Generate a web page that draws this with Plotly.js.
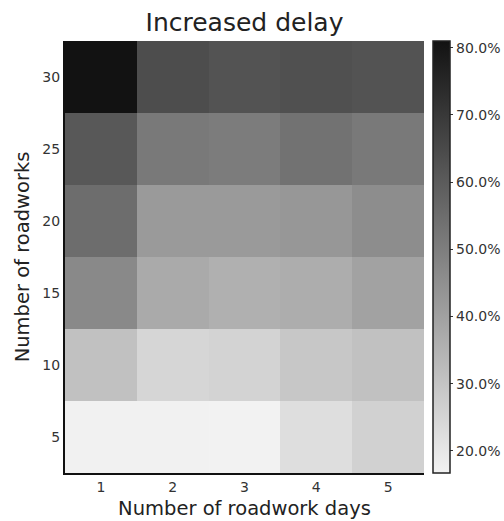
<!DOCTYPE html>
<html>
<head>
<meta charset="utf-8">
<script src="https://cdn.plot.ly/plotly-3.0.1.min.js"></script>
<style>html,body{margin:0;padding:0;background:#fff}#chart{width:504px;height:521px}</style>
</head>
<body>
<div id="chart"></div>
<script>
const days = [1, 2, 3, 4, 5];
const roadworks = [5, 10, 15, 20, 25, 30];
// increased delay (%) per row of roadworks (5..30), columns = days 1..5
const delay5  = [17.0, 17.0, 16.7, 22.3, 26.1];
const delay10 = [30.9, 24.7, 25.6, 29.1, 30.9];
const delay15 = [46.8, 37.3, 35.6, 36.4, 39.7];
const delay20 = [55.0, 42.1, 42.1, 42.9, 45.6];
const delay25 = [60.9, 51.5, 50.6, 53.3, 51.5];
const delay30 = [81.0, 64.2, 62.4, 63.3, 62.4];
const colorTicks = [20, 30, 40, 50, 60, 70, 80];

const z = [delay5, delay10, delay15, delay20, delay25, delay30];
const font = 'DejaVu Sans, sans-serif';

const trace = {
  type: 'heatmap',
  x: days,
  y: roadworks,
  z: z,
  zmin: 16.7,
  zmax: 81.0,
  colorscale: [[0, 'rgb(242,242,242)'], [1, 'rgb(18,18,18)']],
  xgap: 0, ygap: 0,
  colorbar: {
    x: 1.025, xanchor: 'left', xref: 'paper',
    y: 0.5, yanchor: 'middle', len: 1, lenmode: 'fraction',
    thickness: 17, thicknessmode: 'pixels',
    outlinewidth: 1.5, outlinecolor: '#222',
    tickvals: colorTicks,
    ticktext: colorTicks.map(v => v.toFixed(1) + '%'),
    ticks: 'outside', ticklen: 3, tickcolor: '#333',
    tickfont: {family: font, size: 14, color: '#333'},
    xpad: 0, ypad: 0
  }
};

const layout = {
  width: 504, height: 521,
  margin: {l: 65, r: 80, t: 41, b: 48, autoexpand: false},
  paper_bgcolor: '#fff', plot_bgcolor: '#fff',
  font: {family: font, color: '#222'},
  title: {text: 'Increased delay', font: {family: font, size: 25, color: '#222'},
          x: 0.5, xref: 'paper', xanchor: 'center', y: 0.958, yref: 'container', yanchor: 'middle'},
  xaxis: {
    title: {text: 'Number of roadwork days', font: {family: font, size: 19.5, color: '#222'}, standoff: 8},
    tickvals: days, ticktext: days.map(String),
    tickfont: {family: font, size: 14, color: '#333'},
    ticks: '', showgrid: false, zeroline: false,
    showline: true, linecolor: '#111', linewidth: 2,
    range: [0.5, 5.5]
  },
  yaxis: {
    title: {text: 'Number of roadworks', font: {family: font, size: 19.5, color: '#222'}, standoff: 8},
    tickvals: roadworks, ticktext: roadworks.map(String),
    tickfont: {family: font, size: 14, color: '#333'},
    ticks: '', showgrid: false, zeroline: false,
    showline: true, linecolor: '#111', linewidth: 2,
    range: [2.5, 32.5]
  }
};

Plotly.newPlot('chart', [trace], layout, {displayModeBar: false, staticPlot: true});
</script>
</body>
</html>
